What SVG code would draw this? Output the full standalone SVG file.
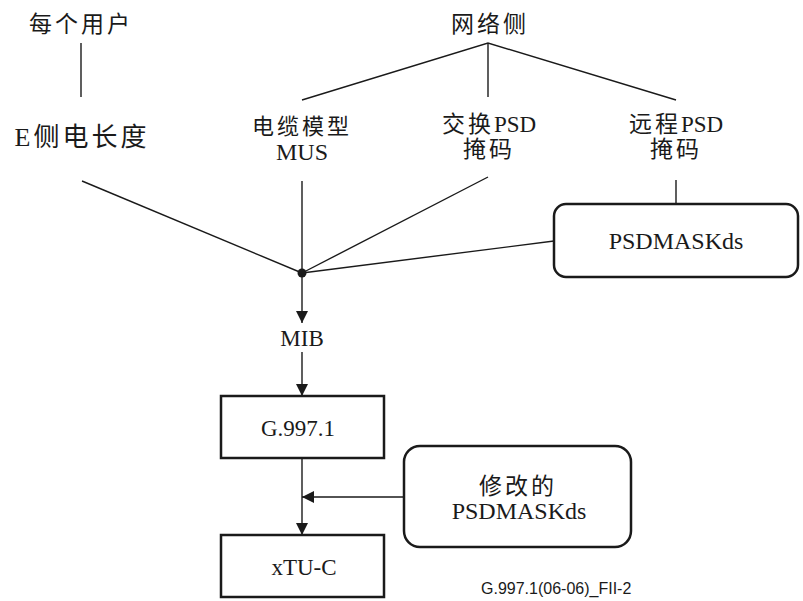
<svg xmlns="http://www.w3.org/2000/svg" width="803" height="601" viewBox="0 0 803 601">
  <style>
    .bg { fill: #ffffff; }
    .t { font-family: "Liberation Serif", "Noto Sans CJK SC", serif; font-size: 23px; fill: #1a1a1a; text-anchor: middle; }
    .cjk { letter-spacing: 3px; }
    .box { fill: #ffffff; stroke: #1a1a1a; stroke-width: 2.5; }
    .ln { stroke: #1a1a1a; stroke-width: 1.4; fill: none; }
    .foot { font-family: "Liberation Sans", Arial, sans-serif; font-size: 16px; fill: #1a1a1a; }
  </style>
  <defs>
    <marker id="arr" markerWidth="12" markerHeight="12" refX="12" refY="6" orient="auto" markerUnits="userSpaceOnUse">
      <path d="M0,0 L12,6 L0,12 Z" fill="#1a1a1a"/>
    </marker>
  </defs>
  <rect class="bg" x="0" y="0" width="803" height="601"/>

  <g id="connectors">
    <line class="ln" x1="81" y1="43" x2="81" y2="97"/>
    <polyline class="ln" points="302,100 488,43 676,100"/>
    <line class="ln" x1="488" y1="43" x2="488" y2="97"/>
    <line class="ln" x1="82" y1="181" x2="302" y2="273"/>
    <line class="ln" x1="302" y1="181" x2="302" y2="273"/>
    <line class="ln" x1="488" y1="177" x2="302" y2="273"/>
    <line class="ln" x1="676" y1="180" x2="676" y2="204"/>
    <line class="ln" x1="554" y1="241" x2="302" y2="273"/>
    <circle cx="302" cy="273" r="4.5" fill="#1a1a1a"/>
    <line class="ln" x1="302" y1="273" x2="302" y2="323" marker-end="url(#arr)"/>
    <line class="ln" x1="302" y1="352" x2="302" y2="396" marker-end="url(#arr)"/>
    <line class="ln" x1="302" y1="458" x2="302" y2="535" marker-end="url(#arr)"/>
    <line class="ln" x1="404" y1="497" x2="302" y2="497" marker-end="url(#arr)"/>
  </g>

  <g id="per-user">
    <text class="t cjk" x="81" y="32">每个用户</text>
  </g>
  <g id="network-side">
    <text class="t cjk" x="490" y="32">网络侧</text>
  </g>
  <g id="e-side-length">
    <text class="t cjk" x="82" y="146" style="font-size:26px">E侧电长度</text>
  </g>
  <g id="cable-model">
    <text class="t cjk" x="302" y="134" style="font-size:22px">电缆模型</text>
    <text class="t" x="302" y="160" style="font-size:24px">MUS</text>
  </g>
  <g id="exchange-psd">
    <text class="t" x="489" y="132"><tspan class="cjk">交换</tspan>PSD</text>
    <text class="t cjk" x="489" y="157">掩码</text>
  </g>
  <g id="remote-psd">
    <text class="t" x="676" y="132"><tspan class="cjk">远程</tspan>PSD</text>
    <text class="t cjk" x="676" y="157">掩码</text>
  </g>
  <g id="psdmaskds">
    <rect class="box" x="554" y="204" width="244" height="73" rx="12"/>
    <text class="t" x="676" y="249" style="font-size:24px">PSDMASKds</text>
  </g>
  <g id="mib">
    <text class="t" x="302" y="346">MIB</text>
  </g>
  <g id="g9971">
    <rect class="box" x="221" y="396" width="163" height="62"/>
    <text class="t" x="298" y="436">G.997.1</text>
  </g>
  <g id="modified-psdmaskds">
    <rect class="box" x="404" y="446" width="227" height="101" rx="16"/>
    <text class="t cjk" x="518" y="494">修改的</text>
    <text class="t" x="519" y="519" style="font-size:24px">PSDMASKds</text>
  </g>
  <g id="xtu-c">
    <rect class="box" x="221" y="535" width="163" height="62"/>
    <text class="t" x="304" y="575">xTU-C</text>
  </g>
  <text class="foot" x="481" y="594">G.997.1(06-06)_FII-2</text>
</svg>
